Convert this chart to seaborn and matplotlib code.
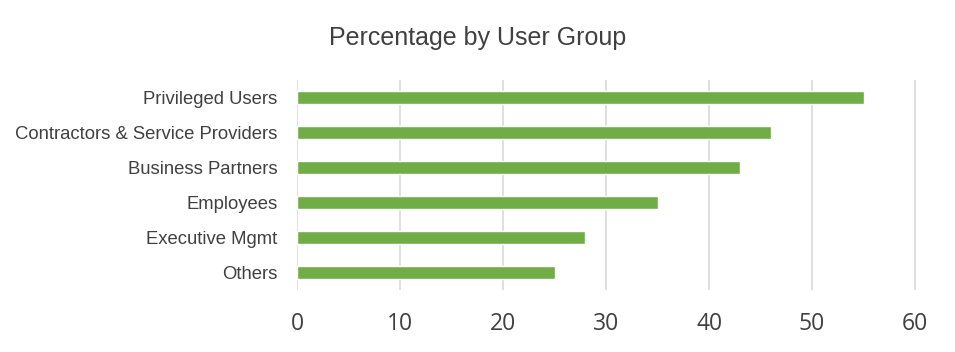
import matplotlib
matplotlib.use("Agg")
import matplotlib.pyplot as plt
import pandas as pd
import seaborn as sns

groups = ["Privileged Users", "Contractors & Service Providers", "Business Partners",
          "Employees", "Executive Mgmt", "Others"]
percentages = [55, 46, 43, 35, 28, 25]
x_ticks = [0, 10, 20, 30, 40, 50, 60]

df = pd.DataFrame({"group": groups, "pct": percentages})

sns.set_style("white")
plt.rcParams["font.family"] = ["Liberation Sans", "DejaVu Sans"]

fig = plt.figure(figsize=(9.55, 3.52), dpi=100)
ax = fig.add_axes([0.311, 0.176, 0.658, 0.597])

sns.barplot(data=df, x="pct", y="group", color="#70AD47", width=0.37,
            saturation=1, ax=ax, zorder=3)

ax.set_xlim(0, 61)
ax.set_xticks(x_ticks)
ax.set_xticklabels([str(t) for t in x_ticks], fontsize=16.5, color="#404040",
                   family=["Open Sans", "DejaVu Sans"])
ax.tick_params(axis="x", length=0, pad=16)
ax.tick_params(axis="y", length=0, pad=14, labelsize=13.3, labelcolor="#404040")
ax.xaxis.grid(True, color="#d9d9d9", linewidth=1.2, zorder=0)
ax.yaxis.grid(False)
ax.set_axisbelow(True)
for s in ax.spines.values():
    s.set_visible(False)
ax.set_xlabel("")
ax.set_ylabel("")
ax.set_ylim(5.5, -0.5)

fig.text(0.5, 0.893, "Percentage by User Group", ha="center", va="center",
         fontsize=18, color="#404040")

fig.savefig("out.png", dpi=100)
